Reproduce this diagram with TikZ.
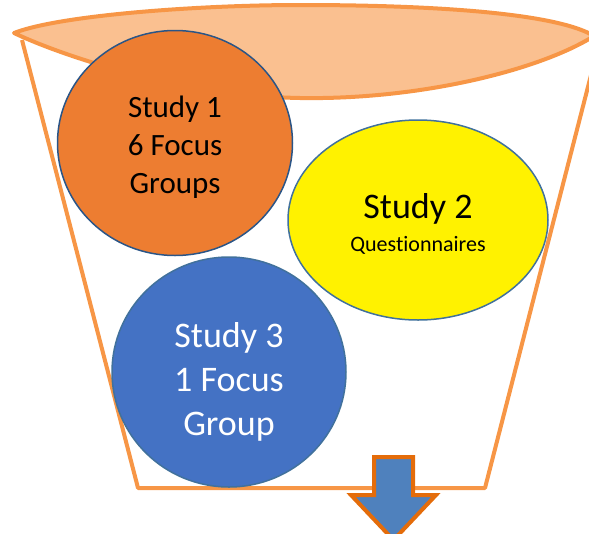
\documentclass[tikz,border=0pt]{standalone}
\usepackage{fontspec}
\setmainfont{Carlito}[Ligatures=NoCommon]
\usetikzlibrary{shapes.geometric}
\definecolor{cuporange}{HTML}{F79646}
\definecolor{lidfill}{HTML}{FAC090}
\definecolor{studyorange}{HTML}{ED7D31}
\definecolor{studyblue}{HTML}{4472C4}
\definecolor{edgeblue}{HTML}{41719C}
\definecolor{darkedge}{HTML}{2A5587}
\definecolor{arrowblue}{HTML}{4F81BD}
\definecolor{arroworange}{HTML}{E46C0A}
\begin{document}
\begin{tikzpicture}[x=1pt,y=-1pt,
cup/.style={draw=cuporange,line width=4pt,line join=round},
study/.style={ellipse,draw,line width=1.5pt,inner sep=0pt},
studytext/.style={align=center,inner sep=0pt}]
\useasboundingbox (0,0) rectangle (589,533);
\clip (0,0) rectangle (589,533);
% cup body and lid
\draw[cup] (22,40) -- (138,488) -- (485,488) -- (600,40);
\draw[cup,fill=lidfill] (14,33) .. controls (60,15) and (200,5) .. (300,5) .. controls (450,5) and (560,15) .. (594,36)
  .. controls (540,70) and (420,100) .. (300,98) .. controls (180,96) and (60,55) .. cycle;
% the three studies
\node[study,draw=darkedge,fill=studyorange,minimum width=235pt,minimum height=225pt] (s1) at (175,143) {};
\node[studytext,font=\fontsize{31}{38}\selectfont,yshift=-4pt] (s1text) at (s1.center) {Study 1\\6 Focus\\Groups};
\node[study,draw=edgeblue,fill=yellow,minimum width=260pt,minimum height=200pt] (s2) at (418,220) {};
\node[studytext,font=\fontsize{22}{33}\selectfont,yshift=-4pt] (s2text) at (s2.center) {{\fontsize{36}{33}\selectfont Study 2}\\Questionnaires};
\node[study,draw=edgeblue,fill=studyblue,minimum width=234pt,minimum height=230pt] (s3) at (229,372) {};
\node[studytext,text=white,font=\fontsize{36}{44}\selectfont,yshift=-10pt] (s3text) at (s3.center) {Study 3\\1 Focus\\Group};
% outlet arrow
\draw[draw=arroworange,fill=arrowblue,line width=4pt,line join=miter] (374,457) -- (413,457) -- (413,495) -- (436,495) -- (393.5,540) -- (351,495) -- (374,495) -- cycle;
\end{tikzpicture}
\end{document}
